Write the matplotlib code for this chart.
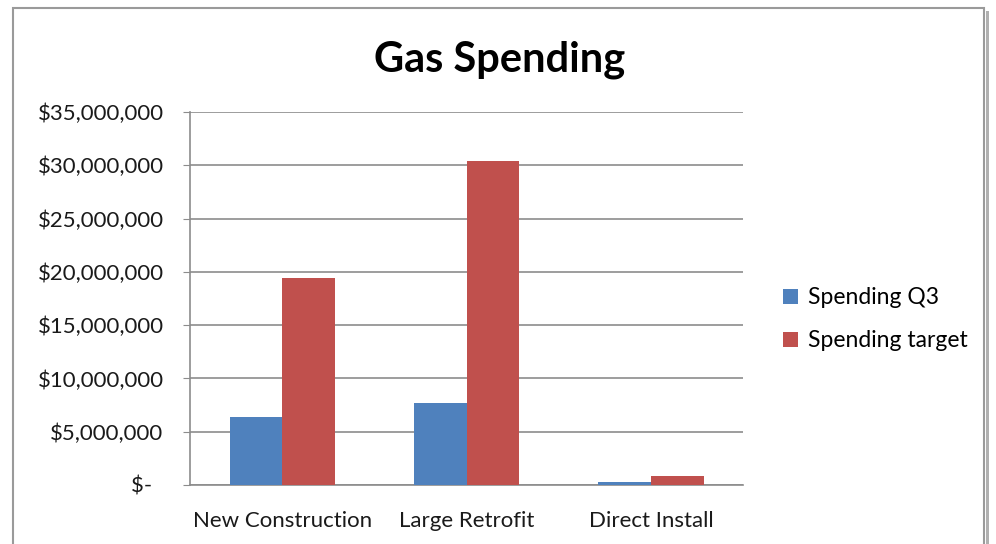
import matplotlib.pyplot as plt
import numpy as np
from matplotlib.patches import Rectangle
from matplotlib.ticker import FuncFormatter

categories = ["New Construction", "Large Retrofit", "Direct Install"]
spending_q3 = [6350000, 7700000, 280000]
spending_target = [19450000, 30400000, 880000]
series_names = ["Spending Q3", "Spending target"]

plt.rcParams['font.family'] = ['Lato', 'DejaVu Sans']

fig = plt.figure(figsize=(9.96, 5.44), dpi=100)
ax = fig.add_axes([0.1908, 0.1085, 0.5552, 0.6857])

x = np.arange(len(categories))
w = 1 / 3.5
ax.bar(x - w / 2, spending_q3, w, color='#4F81BD', label=series_names[0], zorder=3)
ax.bar(x + w / 2, spending_target, w, color='#C0504D', label=series_names[1], zorder=3)

ax.set_xlim(-0.5, len(categories) - 0.5)
ax.set_ylim(0, 35000000)
ax.set_yticks(np.arange(0, 35000001, 5000000))


def money(v, pos):
    if v == 0:
        return "$-  "
    return "${:,.0f}".format(v)


ax.yaxis.set_major_formatter(FuncFormatter(money))
ax.set_xticks(x)
ax.set_xticklabels(categories)
ax.grid(axis='y', color='#8c8c8c', linewidth=1.2, zorder=0)

for s in ['top', 'right']:
    ax.spines[s].set_visible(False)
for s in ['left', 'bottom']:
    ax.spines[s].set_color('#8c8c8c')
    ax.spines[s].set_linewidth(1.2)

ax.tick_params(axis='y', length=5, color='#8c8c8c', pad=14, labelsize=16, labelcolor='#1a1a1a')
ax.tick_params(axis='x', length=0, pad=19, labelsize=16, labelcolor='#1a1a1a')

fig.text(0.502, 0.89, "Gas Spending", ha='center', va='center', fontsize=30, fontweight='bold')

ax.legend(loc='center left', bbox_to_anchor=(1.035, 0.444), frameon=False, fontsize=16.5,
          handlelength=0.65, handleheight=0.65, handletextpad=0.45, labelspacing=0.95)

# chart frame with shadow
fig.patches.append(Rectangle((13 / 996, -0.05), 971 / 996, 1 - 8 / 544 + 0.05,
                             transform=fig.transFigure, fill=False, edgecolor='#9a9a9a',
                             linewidth=1.5, zorder=10))
fig.patches.append(Rectangle((986 / 996, -0.05), 3 / 996, 1 - 11 / 544 + 0.05,
                             transform=fig.transFigure, facecolor='#b0b0b0', edgecolor='none',
                             zorder=10))

fig.savefig("out.png", dpi=100)
